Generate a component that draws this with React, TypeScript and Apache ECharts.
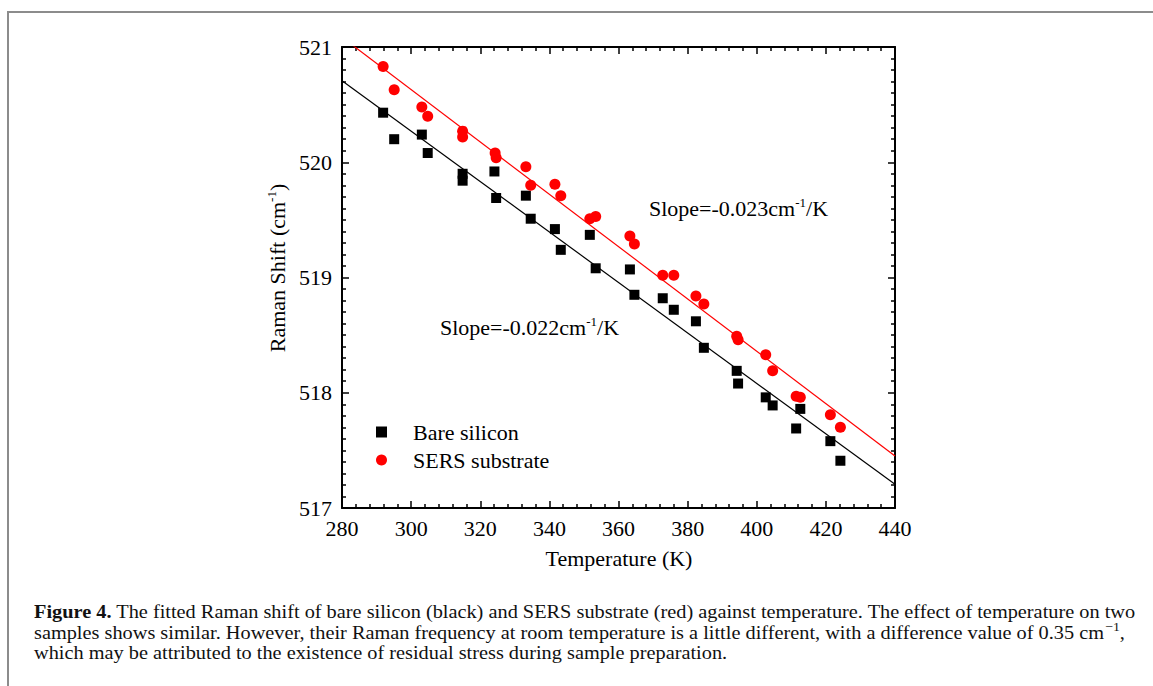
import React, { useEffect, useRef } from "react";
import * as echarts from "echarts";

// ---- data ----
const bareTemperature = [291.9, 295.1, 303.1, 304.8, 314.9, 314.9, 324.1, 324.6, 333.2, 334.6, 341.6, 343.3, 351.7, 353.4, 363.3, 364.6, 372.8, 376.0, 382.4, 384.7, 394.2, 394.6, 402.6, 404.6, 412.6, 411.4, 421.3, 424.2];
const bareShift = [520.43, 520.2, 520.24, 520.08, 519.9, 519.84, 519.92, 519.69, 519.71, 519.51, 519.42, 519.24, 519.37, 519.08, 519.07, 518.85, 518.82, 518.72, 518.62, 518.39, 518.19, 518.08, 517.96, 517.89, 517.86, 517.69, 517.58, 517.41];
const sersTemperature = [291.9, 295.1, 303.1, 304.8, 314.9, 314.9, 324.3, 324.6, 333.2, 334.6, 341.6, 343.3, 351.7, 353.4, 363.3, 364.6, 372.8, 376.0, 382.4, 384.7, 394.2, 394.6, 402.6, 404.6, 411.4, 412.6, 421.3, 424.2];
const sersShift = [520.83, 520.63, 520.48, 520.4, 520.27, 520.22, 520.08, 520.04, 519.96, 519.8, 519.81, 519.71, 519.51, 519.53, 519.36, 519.29, 519.02, 519.02, 518.84, 518.77, 518.49, 518.46, 518.33, 518.19, 517.97, 517.96, 517.81, 517.7];
const fitTemperature = [280, 440];
const bareFit = [520.708, 517.206];
const sersFit = [521.085, 517.451];

const xMin = 280, xMax = 440, xStep = 20;
const yMin = 517, yMax = 521, yStep = 1;

const seriesNames = ["Bare silicon", "SERS substrate"];
const slopeLabels = ["Slope=-0.022cm{sup|-1}/K", "Slope=-0.023cm{sup|-1}/K"];
const xAxisTitle = "Temperature (K)";
const yAxisTitle = "Raman Shift (cm{sup|-1})";

const captionBold = "Figure 4.";
const captionLine1 = " The fitted Raman shift of bare silicon (black) and SERS substrate (red) against temperature. The effect of temperature on two";
const captionLine2a = "samples shows similar. However, their Raman frequency at room temperature is a little different, with a difference value of 0.35 cm";
const captionLine2sup = "\u22121";
const captionLine2b = ",";
const captionLine3 = "which may be attributed to the existence of residual stress during sample preparation.";

const SERIF = "'Liberation Serif', 'Times New Roman', serif";
const FS = 22;

function pairs(xs: number[], ys: number[]) {
  return xs.map((x, i) => [x, ys[i]]);
}

export default function App() {
  const ref = useRef<HTMLDivElement>(null);
  useEffect(() => {
    document.body.style.margin = "0";
    if (!ref.current) return;
    const chart = echarts.init(ref.current, null, { renderer: "svg" });

    // caption width fit
    const capSize = 19;
    const cv = document.createElement("canvas").getContext("2d")!;
    cv.font = `bold ${capSize}px 'Liberation Serif'`;
    const wb = cv.measureText(captionBold).width;
    cv.font = `${capSize}px 'Liberation Serif'`;
    const w1 = cv.measureText(captionLine1).width;
    const capScale = 1103 / (wb + w1);

    const axisCommon = {
      axisLine: { show: true, onZero: false, lineStyle: { color: "#000", width: 2 } },
      axisTick: { show: true, inside: true, length: 7, lineStyle: { color: "#000", width: 1.5 } },
      splitLine: { show: false },
    };

    const supStyle = { fontSize: 13, fontFamily: SERIF, verticalAlign: "top", fill: "#000", lineHeight: 24 };

    const option: any = {
      animation: false,
      backgroundColor: "#fff",
      grid: { left: 342, top: 47, width: 553, height: 461, containLabel: false },
      xAxis: [
        {
          type: "value", min: xMin, max: xMax, interval: xStep, position: "bottom",
          ...axisCommon,
          minorTick: { show: true, splitNumber: 5, length: 4, lineStyle: { color: "#000", width: 1.5 } },
          axisLabel: { show: true, margin: 9, color: "#000", fontSize: FS, fontFamily: SERIF },
        },
        {
          type: "value", min: xMin, max: xMax, interval: xStep, position: "top",
          ...axisCommon,
          minorTick: { show: true, splitNumber: 5, length: 4, lineStyle: { color: "#000", width: 1.5 } },
          axisLabel: { show: false },
        },
      ],
      yAxis: [
        {
          type: "value", min: yMin, max: yMax, interval: yStep, position: "left",
          ...axisCommon,
          minorTick: { show: true, splitNumber: 10, length: 4, lineStyle: { color: "#000", width: 1.5 } },
          axisLabel: { show: true, margin: 10, color: "#000", fontSize: FS, fontFamily: SERIF },
        },
        {
          type: "value", min: yMin, max: yMax, interval: yStep, position: "right",
          ...axisCommon,
          minorTick: { show: true, splitNumber: 10, length: 4, lineStyle: { color: "#000", width: 1.5 } },
          axisLabel: { show: false },
        },
      ],
      legend: {
        orient: "vertical",
        left: 376,
        top: 421,
        padding: 0,
        itemGap: 6,
        itemWidth: 11,
        itemHeight: 11,
        textStyle: { fontSize: FS, fontFamily: SERIF, color: "#000", padding: [0, 0, 0, 21] },
        data: [
          { name: seriesNames[0], icon: "rect" },
          { name: seriesNames[1], icon: "circle" },
        ],
      },
      series: [
        {
          name: "bareFit", type: "line", data: pairs(fitTemperature, bareFit),
          showSymbol: false, symbol: "none", clip: true,
          lineStyle: { color: "#000", width: 1.2 }, z: 1,
        },
        {
          name: "sersFit", type: "line", data: pairs(fitTemperature, sersFit),
          showSymbol: false, symbol: "none", clip: true,
          lineStyle: { color: "#ff0000", width: 1.2 }, z: 1,
        },
        {
          name: seriesNames[0], type: "scatter", data: pairs(bareTemperature, bareShift),
          symbol: "rect", symbolSize: 10, itemStyle: { color: "#000", opacity: 1 }, z: 3,
        },
        {
          name: seriesNames[1], type: "scatter", data: pairs(sersTemperature, sersShift),
          symbol: "circle", symbolSize: 11, itemStyle: { color: "#ff0000", opacity: 1 }, z: 3,
        },
      ],
      graphic: [
        {
          type: "rect", shape: { x: 8, y: 12, width: 1400, height: 900 }, silent: true,
          style: { fill: "none", stroke: "#8c8c8c", lineWidth: 2 },
        },
        {
          type: "text", x: 277, y: 268, rotation: Math.PI / 2,
          style: {
            text: yAxisTitle, fontSize: FS, fontFamily: SERIF, fill: "#000",
            align: "center", verticalAlign: "middle", lineHeight: 24,
            rich: { sup: supStyle },
          },
        },
        {
          type: "text", x: 619, y: 558,
          style: { text: xAxisTitle, fontSize: FS, fontFamily: SERIF, fill: "#000", align: "center", verticalAlign: "middle" },
        },
        {
          type: "text", x: 440, y: 327,
          style: {
            text: slopeLabels[0], fontSize: FS, fontFamily: SERIF, fill: "#000", lineHeight: 24,
            align: "left", verticalAlign: "middle", rich: { sup: supStyle },
          },
        },
        {
          type: "text", x: 649, y: 208,
          style: {
            text: slopeLabels[1], fontSize: FS, fontFamily: SERIF, fill: "#000", lineHeight: 24,
            align: "left", verticalAlign: "middle", rich: { sup: supStyle },
          },
        },
        {
          type: "text", x: 34, y: 611, scaleX: capScale, scaleY: 1,
          style: {
            text: `{b|${captionBold}}${captionLine1}`, fontSize: capSize, fontFamily: SERIF, fill: "#111",
            align: "left", verticalAlign: "middle",
            rich: { b: { fontWeight: "bold", fontSize: capSize, fontFamily: SERIF, fill: "#111" } },
          },
        },
        {
          type: "text", x: 34, y: 632, scaleX: capScale, scaleY: 1,
          style: {
            text: `${captionLine2a}{sup|${captionLine2sup}}${captionLine2b}`, fontSize: capSize, fontFamily: SERIF, fill: "#111",
            align: "left", verticalAlign: "middle", lineHeight: 23,
            rich: { sup: { fontSize: 13, fontFamily: SERIF, verticalAlign: "top", fill: "#111", lineHeight: 23 } },
          },
        },
        {
          type: "text", x: 34, y: 652, scaleX: capScale, scaleY: 1,
          style: {
            text: captionLine3, fontSize: capSize, fontFamily: SERIF, fill: "#111",
            align: "left", verticalAlign: "middle",
          },
        },
      ],
    };
    chart.setOption(option);
    return () => chart.dispose();
  }, []);
  return <div ref={ref} style={{ width: 1153, height: 686 }} />;
}
